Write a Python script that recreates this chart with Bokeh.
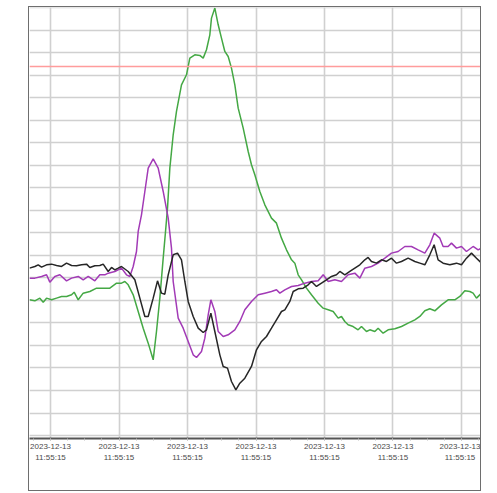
from bokeh.plotting import figure
from bokeh.models import Range1d, FixedTicker, Grid, LinearAxis, Span, Spacer
from bokeh.layouts import row, column
from bokeh.embed import file_html
from bokeh.resources import INLINE

tick_pos = [0, 1, 2, 3, 4, 5, 6]
tick_labels = ["2023-12-13\n11:55:15"] * 7
y_grid = list(range(0, 20))
threshold = 16.4

black_x = [-0.307,-0.229,-0.180,-0.131,-0.058,0.015,0.088,0.161,0.234,0.307,0.380,0.453,0.526,0.574,0.647,0.720,0.769,0.842,0.891,0.939,0.988,1.036,1.134,1.231,1.304,1.377,1.426,1.499,1.562,1.620,1.669,1.718,1.791,1.854,1.912,1.961,2.010,2.083,2.156,2.229,2.277,2.341,2.399,2.472,2.521,2.584,2.642,2.706,2.764,2.837,2.934,
           3.007,3.080,3.153,3.226,3.299,3.372,3.421,3.494,3.543,3.616,3.689,3.762,3.810,3.883,3.956,4.029,4.102,4.175,4.224,4.297,4.370,4.443,4.516,4.589,4.637,4.686,4.759,4.832,4.905,4.978,5.051,5.124,5.221,5.319,5.392,5.465,5.538,5.601,5.659,5.732,5.830,5.927,6.000,6.073,6.146,6.219,6.292]
black_y = [7.437,7.511,7.585,7.481,7.585,7.615,7.556,7.511,7.659,7.556,7.541,7.585,7.615,7.467,7.541,7.556,7.615,7.289,7.467,7.363,7.437,7.511,7.289,6.919,6.104,5.289,5.289,6.104,6.874,6.326,6.281,7.141,8.030,8.104,7.807,6.844,5.956,5.289,4.770,4.578,4.696,5.437,4.622,3.585,3.067,2.993,2.400,2.030,2.326,2.548,3.067,
           3.807,4.178,4.400,4.770,5.141,5.511,5.585,5.956,6.400,6.519,6.548,6.696,6.844,6.622,6.770,6.919,7.067,7.141,7.289,7.141,7.289,7.437,7.585,7.807,7.911,7.733,7.659,7.807,7.733,7.881,7.659,7.733,7.881,7.733,7.659,7.585,8.030,8.474,7.807,7.659,7.585,7.659,7.585,7.881,8.104,7.881,7.659]

purple_x = [-0.307,-0.229,-0.131,-0.058,-0.010,0.063,0.136,0.234,0.307,0.404,0.477,0.550,0.647,0.720,0.793,0.842,0.939,1.036,1.109,1.158,1.207,1.255,1.280,1.328,1.377,1.426,1.499,1.572,1.645,1.718,1.766,1.791,1.864,1.937,2.010,2.083,2.131,2.204,2.253,2.302,2.341,2.399,2.448,2.521,2.594,2.691,2.764,2.837,2.934,
            3.032,3.129,3.226,3.299,3.348,3.421,3.519,3.616,3.713,3.810,3.908,3.981,4.054,4.151,4.248,4.345,4.443,4.516,4.589,4.686,4.783,4.881,4.978,5.075,5.173,5.270,5.367,5.465,5.538,5.601,5.684,5.732,5.805,5.854,5.927,6.000,6.073,6.170,6.243,6.292]
purple_y = [6.993,6.993,7.067,7.141,6.815,7.067,7.141,6.874,6.993,7.067,6.919,7.067,6.874,7.141,7.141,7.215,7.289,7.437,7.141,7.067,7.511,8.178,9.067,9.807,10.844,11.881,12.296,11.881,10.844,9.659,8.326,6.844,5.215,4.770,4.178,3.585,3.467,3.733,4.326,5.363,6.030,5.511,4.622,4.400,4.474,4.696,5.067,5.585,5.956,
            6.252,6.326,6.400,6.474,6.326,6.474,6.622,6.667,6.770,6.844,6.874,7.141,6.844,6.919,6.844,7.141,7.215,6.993,7.437,7.511,7.659,7.881,8.104,8.178,8.400,8.400,8.252,8.104,8.474,8.993,8.770,8.400,8.400,8.548,8.326,8.400,8.178,8.400,8.252,8.326]

green_x = [-0.307,-0.229,-0.156,-0.107,-0.058,0.015,0.088,0.161,0.234,0.307,0.345,0.404,0.477,0.574,0.672,0.769,0.866,0.964,1.036,1.085,1.134,1.207,1.280,1.353,1.426,1.499,1.547,1.596,1.645,1.679,1.708,1.742,1.791,1.839,1.912,1.985,2.034,2.107,2.180,2.229,2.277,2.326,2.350,2.399,2.448,2.496,2.545,2.594,2.642,2.691,2.740,2.813,2.886,2.934,
           2.983,3.056,3.129,3.226,3.299,3.372,3.445,3.519,3.567,3.616,3.665,3.737,3.810,3.908,3.981,4.054,4.127,4.200,4.248,4.297,4.345,4.418,4.491,4.540,4.613,4.662,4.735,4.783,4.856,4.929,5.027,5.124,5.221,5.319,5.392,5.465,5.538,5.611,5.708,5.805,5.903,5.976,6.049,6.122,6.170,6.219,6.292]
green_y = [6.030,5.985,6.104,5.926,6.104,6.030,6.104,6.178,6.178,6.252,6.370,6.030,6.326,6.400,6.548,6.548,6.548,6.770,6.770,6.844,6.696,6.252,5.511,4.770,4.104,3.363,4.622,6.104,7.881,9.067,10.104,11.881,13.363,14.400,15.585,16.030,16.770,16.919,16.889,16.770,17.141,17.807,18.548,18.993,18.252,17.659,17.067,16.844,16.326,15.585,14.548,13.659,12.622,12.030,
           11.585,10.844,10.252,9.659,9.437,8.770,8.252,7.807,7.659,7.141,6.919,6.548,6.252,5.881,5.659,5.585,5.511,5.215,5.289,5.067,4.919,4.844,4.696,4.844,4.622,4.696,4.622,4.770,4.548,4.696,4.741,4.844,4.993,5.141,5.289,5.541,5.630,5.541,5.807,6.030,6.030,6.178,6.430,6.400,6.326,6.104,6.326]

p = figure(width=453, height=485, output_backend="svg", toolbar_location=None,
           x_range=Range1d(-0.307, 6.307), y_range=Range1d(-0.133, 19.02),
           x_axis_location=None, y_axis_location=None,
           min_border_left=0, min_border_right=0, min_border_top=0, min_border_bottom=54)
p.outline_line_color = None
p.styles = {"border": "1px solid #6e6e6e"}

xax = LinearAxis(ticker=FixedTicker(ticks=tick_pos,
                                    minor_ticks=[i / 4 for i in range(-1, 26)]))
xax.major_label_overrides = {t: l for t, l in zip(tick_pos, tick_labels)}
xax.axis_line_color = "#555555"
xax.axis_line_width = 2
xax.major_tick_line_color = "#bbbbbb"
xax.minor_tick_line_color = "#bbbbbb"
xax.major_tick_out = 2
xax.major_tick_in = 0
xax.minor_tick_out = 2
xax.minor_tick_in = 0
xax.major_label_standoff = 1
xax.major_label_text_font = "Liberation Sans"
xax.major_label_text_font_size = "8px"
xax.major_label_text_color = "#4a4a4a"
xax.major_label_text_line_height = 1.25
p.add_layout(xax, "below")

p.add_layout(Grid(dimension=0, ticker=FixedTicker(ticks=tick_pos),
                  grid_line_color="#d0d0d0", grid_line_width=1.6))
p.add_layout(Grid(dimension=1, ticker=FixedTicker(ticks=y_grid),
                  grid_line_color="#d0d0d0", grid_line_width=1.6))

p.add_layout(Span(location=threshold, dimension="width",
                  line_color="#ff9c9c", line_width=1.5))

p.line(green_x, green_y, line_color="#44a844", line_width=1.5)
p.line(purple_x, purple_y, line_color="#a23ab6", line_width=1.5)
p.line(black_x, black_y, line_color="#262626", line_width=1.5)

layout = column(Spacer(width=481, height=6), row(Spacer(width=28, height=485), p))
open("out.html", "w").write(file_html(layout, INLINE))
